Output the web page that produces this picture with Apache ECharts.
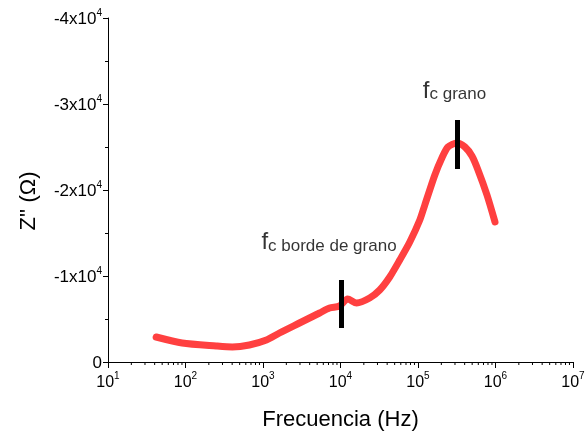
<!DOCTYPE html>
<html>
<head>
<meta charset="utf-8">
<script src="https://cdn.jsdelivr.net/npm/echarts@6/dist/echarts.min.js"></script>
<style>html,body{margin:0;padding:0;background:#fff}#c{width:585px;height:434px}</style>
</head>
<body>
<div id="c"></div>
<script>
// Data
const freqHz = [41.8, 90.6, 249, 402, 667, 1107, 1630, 2956, 5370, 7228, 9730, 12360, 16150, 23770, 32060, 43180, 58180, 78340, 105500, 122400, 164900, 203200, 243200, 317700, 403400, 496800, 594300, 776600, 985400];
const zImag  = [-2907, -2209, -1860, -1744, -1977, -2558, -3372, -4535, -5698, -6279, -6512, -7326, -6860, -7442, -8372, -9884, -11860, -13953, -16512, -18256, -21744, -23721, -25000, -25465, -25000, -23950, -22330, -19419, -16279];

// characteristic frequency markers: [frequency, z from, z to]
const markerFreq = [10330, 318000];
const markerFrom = [-3953, -22440];
const markerTo   = [-9535, -28140];

// annotation labels
const annotFreq = [953, 115300];
const annotZ    = [-14000, -31600];
const annotSub  = ['c borde de grano', 'c grano'];

// axis ticks
const xMin = 10, xMax = 1e7;
const yMin = -40000, yMax = 0, yStep = 10000;

const minorTicks = [];
for (let e = 1; e < 7; e++) for (let k = 2; k <= 9; k++) minorTicks.push([k * Math.pow(10, e), 0]);

const FONT = '"Liberation Sans", Arial, sans-serif';
const chart = echarts.init(document.getElementById('c'));

const supRich = (size) => ({
  b: { fontSize: size, fontFamily: FONT, color: '#000', lineHeight: 20, verticalAlign: 'bottom' },
  sup: { fontSize: 10, fontFamily: FONT, color: '#000', lineHeight: 10, verticalAlign: 'top' }
});

chart.setOption({
  animation: false,
  backgroundColor: '#fff',
  grid: { left: 108, right: 12, top: 18, bottom: 72, containLabel: false, outerBoundsMode: 'none' },
  xAxis: {
    type: 'log', logBase: 10, min: xMin, max: xMax,
    name: 'Frecuencia (Hz)', nameLocation: 'middle', nameGap: 47,
    nameTextStyle: { fontSize: 22, fontFamily: FONT, color: '#000' },
    axisLine: { show: true, lineStyle: { color: '#000', width: 1 } },
    axisTick: { show: true, inside: false, length: 6, lineStyle: { color: '#000' } },
    minorTick: { show: false },
    splitLine: { show: false },
    axisLabel: {
      margin: 9, color: '#000',
      formatter: v => '{b|10}{sup|' + Math.round(Math.log10(v)) + '}',
      rich: supRich(16)
    }
  },
  yAxis: {
    type: 'value', inverse: true, min: yMin, max: yMax, interval: yStep,
    name: "Z'' (Ω)", nameLocation: 'middle', nameGap: 68, nameRotate: 90,
    nameTextStyle: { fontSize: 22, fontFamily: FONT, color: '#000', padding: [0, 22, 0, 0] },
    axisLine: { show: true, lineStyle: { color: '#000', width: 1 } },
    axisTick: { show: true, inside: false, length: 5, lineStyle: { color: '#000' } },
    minorTick: { show: true, splitNumber: 2, length: 3, lineStyle: { color: '#000' } },
    splitLine: { show: false },
    axisLabel: {
      margin: 6, color: '#000',
      formatter: v => v === 0 ? '{b|0}' : '{b|-' + Math.abs(v) / 1e4 + 'x10}{sup|4}',
      rich: supRich(17)
    }
  },
  series: [
    {
      type: 'line',
      data: freqHz.map((f, i) => [f, zImag[i]]),
      smooth: 0.25,
      showSymbol: false,
      lineStyle: { color: '#ff4040', width: 7, cap: 'round', join: 'round' },
      z: 2,
      markLine: {
        silent: true,
        symbol: ['none', 'none'],
        label: { show: false },
        lineStyle: { color: '#000', width: 5, type: 'solid' },
        data: markerFreq.map((f, i) => [{ coord: [f, markerFrom[i]] }, { coord: [f, markerTo[i]] }])
      }
    },
    {
      type: 'scatter',
      symbolSize: 0,
      silent: true,
      data: annotFreq.map((f, i) => ({ value: [f, annotZ[i]], sub: annotSub[i] })),
      label: {
        show: true, position: 'right', distance: 0, color: '#000',
        formatter: p => '{f|f}{s|' + p.data.sub + '}',
        rich: {
          f: { fontSize: 24, fontFamily: FONT, color: '#000', lineHeight: 26, verticalAlign: 'bottom' },
          s: { fontSize: 17, fontFamily: FONT, color: '#000', lineHeight: 16, verticalAlign: 'bottom' }
        }
      }
    },
    {
      type: 'custom',
      silent: true,
      clip: false,
      data: minorTicks,
      renderItem: (params, api) => {
        const p = api.coord([api.value(0), api.value(1)]);
        return { type: 'line', shape: { x1: p[0], y1: p[1], x2: p[0], y2: p[1] + 3 }, style: { stroke: '#000', lineWidth: 1 } };
      }
    }
  ]
});
</script>
</body>
</html>
